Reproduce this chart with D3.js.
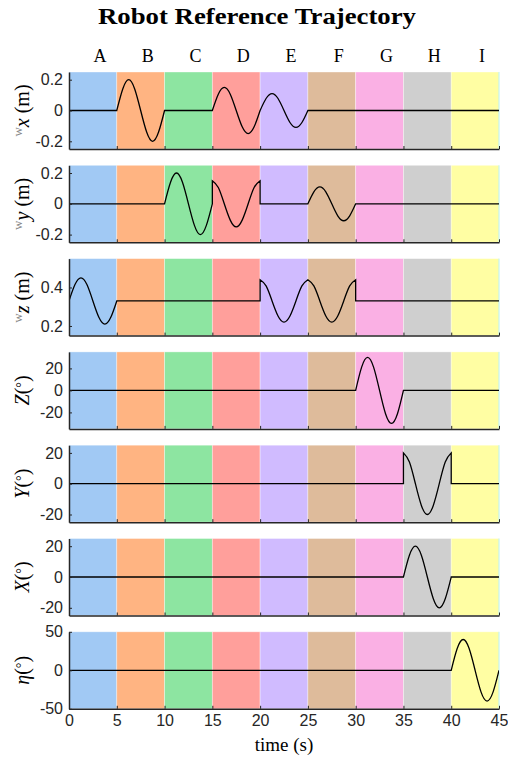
<!DOCTYPE html>
<html>
<head>
<meta charset="utf-8">
<script src="https://cdn.jsdelivr.net/npm/d3@7"></script>
<style>
  body { margin: 0; background: #fff; }
  svg { display: block; }
</style>
</head>
<body>
<div id="chart"></div>
<script>
// segments of the trajectory (A..I), 5 s each
const bandLabels = ["A", "B", "C", "D", "E", "F", "G", "H", "I"];
const bandStarts = [0, 5, 10, 15, 20, 25, 30, 35, 40];
const bandColors = ["#a1c9f4", "#ffb482", "#8de5a1", "#ff9f9b", "#d0bbff",
                    "#debb9b", "#fab0e4", "#cfcfcf", "#fffea3"];
const xTicks = [0, 5, 10, 15, 20, 25, 30, 35, 40, 45];

// each piece: [start time, end time (evenly spaced)]
const wxPieces = [
  [0, 5, [0, 0]],
  [5, 10, [0, 0.14, 0.2, 0.14, 0, -0.14, -0.2, -0.14, 0]],
  [10, 15, [0, 0]],
  [15, 20, [0, 0.106, 0.15, 0.106, 0, -0.106, -0.15, -0.106, 0]],
  [20, 25, [0, 0.078, 0.11, 0.078, 0, -0.078, -0.11, -0.078, 0]],
  [25, 45, [0, 0]]
];
const wyPieces = [
  [0, 10, [0, 0]],
  [10, 15, [0, 0.14, 0.2, 0.14, 0, -0.14, -0.2, -0.14, 0]],
  [15, 20, [0.15, 0.106, 0, -0.106, -0.15, -0.106, 0, 0.106, 0.15]],
  [20, 25, [0, 0]],
  [25, 30, [0, 0.078, 0.11, 0.078, 0, -0.078, -0.11, -0.078, 0]],
  [30, 45, [0, 0]]
];
const wzPieces = [
  [0, 5, [0.33, 0.415, 0.45, 0.415, 0.33, 0.245, 0.21, 0.245, 0.33]],
  [5, 20, [0.33, 0.33]],
  [20, 25, [0.44, 0.408, 0.33, 0.252, 0.22, 0.252, 0.33, 0.408, 0.44]],
  [25, 30, [0.44, 0.408, 0.33, 0.252, 0.22, 0.252, 0.33, 0.408, 0.44]],
  [30, 45, [0.33, 0.33]]
];
const zPieces = [
  [0, 30, [0, 0]],
  [30, 35, [0, 21.2, 30, 21.2, 0, -21.2, -30, -21.2, 0]],
  [35, 45, [0, 0]]
];
const yPieces = [
  [0, 35, [0, 0]],
  [35, 40, [20, 14.1, 0, -14.1, -20, -14.1, 0, 14.1, 20]],
  [40, 45, [0, 0]]
];
const xPieces = [
  [0, 35, [0, 0]],
  [35, 40, [0, 14.1, 20, 14.1, 0, -14.1, -20, -14.1, 0]],
  [40, 45, [0, 0]]
];
const etaPieces = [
  [0, 40, [0, 0]],
  [40, 45, [0, 28.3, 40, 28.3, 0, -28.3, -40, -28.3, 0]]
];

const yDomains = [[-0.25, 0.25], [-0.25, 0.25], [0.15, 0.55], [-35, 35], [-25, 25], [-25, 25], [-50, 50]];
const yTickSets = [[-0.2, 0, 0.2], [-0.2, 0, 0.2], [0.2, 0.4], [-20, 0, 20], [-20, 0, 20], [-20, 0, 20], [-50, 0, 50]];
const allPieces = [wxPieces, wyPieces, wzPieces, zPieces, yPieces, xPieces, etaPieces];

const W = 508, H = 760;
const left = 69, right = 499;
const panelTop0 = 72, panelStep = 93.3, panelH = 77;

const svg = d3.select("#chart").append("svg")
  .attr("width", W).attr("height", H);

const x = d3.scaleLinear().domain([0, 45]).range([left, right]);

const serif = "'Liberation Serif', 'DejaVu Serif', serif";
const sans = "'Liberation Sans', Arial, sans-serif";

// title
svg.append("text")
  .attr("x", 257).attr("y", 24)
  .attr("text-anchor", "middle")
  .attr("textLength", 318).attr("lengthAdjust", "spacingAndGlyphs")
  .style("font-family", serif).style("font-weight", "bold").style("font-size", "23px")
  .text("Robot Reference Trajectory");

// segment letters
svg.selectAll(".seglabel").data(bandLabels).enter()
  .append("text")
  .attr("class", "seglabel")
  .attr("x", (d, i) => x(bandStarts[i] + 2.5) + 7)
  .attr("y", 62)
  .attr("text-anchor", "middle")
  .style("font-family", serif).style("font-size", "18px")
  .text(d => d);

svg.append("defs").append("clipPath").attr("id", "plotclip")
  .append("rect").attr("x", left).attr("y", 0).attr("width", right - left).attr("height", panelH);

const line = d3.line().curve(d3.curveNatural);

function yLabel(g, i, cy) {
  const t = g.append("text")
    .attr("transform", "translate(29," + cy + ") rotate(-90)")
    .attr("text-anchor", "middle")
    .style("font-family", serif).style("font-size", "20px");
  if (i < 3) {
    t.append("tspan").text("w").style("font-size", "13px").style("fill", "#888").attr("dy", -7);
    t.append("tspan").text(["x", "y", "z"][i]).style("font-style", "italic").attr("dy", 7);
    t.append("tspan").text(" (m)");
  } else {
    t.append("tspan").text(["Z", "Y", "X", "\u03B7"][i - 3]).style("font-style", "italic");
    t.append("tspan").text("(");
    t.append("tspan").text("\u00B0").style("font-size", "14px").attr("dy", -3);
    t.append("tspan").text(")").attr("dy", 3);
  }
}

allPieces.forEach(function(pieces, i) {
  const top = panelTop0 + i * panelStep;
  const g = svg.append("g").attr("transform", "translate(0," + top + ")");
  const y = d3.scaleLinear().domain(yDomains[i]).range([panelH, 0]);

  // coloured segments
  g.selectAll(".band").data(bandStarts).enter()
    .append("rect")
    .attr("x", d => x(d))
    .attr("y", 0)
    .attr("width", d => x(d + 5) - x(d))
    .attr("height", panelH)
    .attr("fill", (d, k) => bandColors[k])
    .attr("stroke", "#fff").attr("stroke-opacity", 0.45).attr("stroke-width", 0.8);

  g.append("line")
    .attr("x1", right).attr("x2", right).attr("y1", 0).attr("y2", panelH)
    .attr("stroke", "#b9f2f0").attr("stroke-width", 1);

  // trajectory, pieces joined with straight jumps
  const d = pieces.map(function(p, k) {
    const pts = p[2].map((v, j) => [x(p[0] + (p[1] - p[0]) * j / (p[2].length - 1)), y(v)]);
    const s = line(pts);
    return k ? s.replace(/^M/, "L") : s;
  }).join("");
  g.append("path")
    .attr("d", d)
    .attr("clip-path", "url(#plotclip)")
    .attr("fill", "none")
    .attr("stroke", "#000")
    .attr("stroke-width", 1.3);

  // axes
  const ya = g.append("g").attr("transform", "translate(" + left + ",0)")
    .call(d3.axisLeft(y).tickValues(yTickSets[i]).tickFormat(v => String(v))
      .tickSizeInner(-3).tickSizeOuter(0).tickPadding(6));
  const xa = g.append("g").attr("transform", "translate(0," + panelH + ")")
    .call(d3.axisBottom(x).tickValues(xTicks).tickFormat(v => String(v))
      .tickSizeInner(-3).tickSizeOuter(0).tickPadding(6));
  if (i < allPieces.length - 1) xa.selectAll("text").remove();

  [ya, xa].forEach(function(a) {
    a.select(".domain").attr("stroke", "#262626").attr("stroke-width", 1.5);
    a.selectAll(".tick line").attr("stroke", "#262626").attr("stroke-width", 1);
    a.selectAll("text").style("font-family", sans).style("font-size", "16px").attr("fill", "#262626");
  });

  yLabel(g, i, panelH / 2);
});

svg.append("text")
  .attr("x", x(22.5)).attr("y", 751)
  .attr("text-anchor", "middle")
  .style("font-family", serif).style("font-size", "19px")
  .text("time (s)");
</script>
</body>
</html>
